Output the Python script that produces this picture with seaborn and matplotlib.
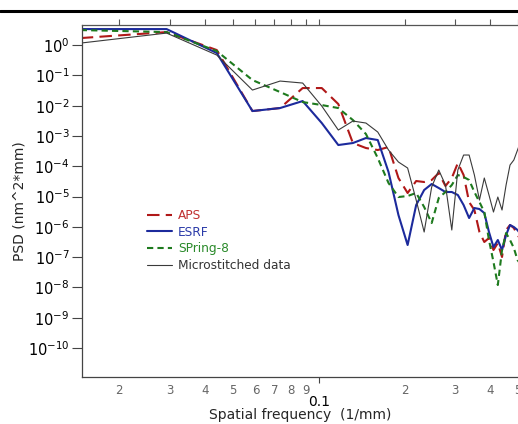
import numpy as np
import pandas as pd
import matplotlib
matplotlib.use("Agg")
import matplotlib.pyplot as plt
import matplotlib.ticker as mticker
from matplotlib.lines import Line2D
import seaborn as sns

# Spatial frequency grid (1/mm)
freq = [0.01465, 0.0293, 0.04395, 0.0586, 0.07325, 0.0879, 0.10255, 0.1172,
        0.13185, 0.1465, 0.16115, 0.1758, 0.19045, 0.2051, 0.21975, 0.2344,
        0.24905, 0.2637, 0.27835, 0.293, 0.30765, 0.3223, 0.33695, 0.3516,
        0.36625, 0.3809, 0.39555, 0.4102, 0.42485, 0.4395, 0.45415, 0.4688,
        0.48345, 0.4981, 0.51275]

# log10 of PSD (nm^2*mm)
log_aps = [0.231, 0.429, -0.165, -2.178, -2.079, -1.419, -1.419, -1.947,
           -3.234, -3.399, -3.465, -3.366, -4.389, -4.884, -4.488, -4.521,
           -4.455, -4.224, -4.653, -4.389, -3.894, -4.290, -5.182, -5.446,
           -6.172, -6.502, -6.370, -6.766, -6.535, -6.997, -6.106, -5.941,
           -6.040, -6.271, -6.436]
log_esrf = [0.528, 0.528, -0.264, -2.178, -2.079, -1.848, -2.574, -3.300,
            -3.234, -3.069, -3.135, -4.191, -5.611, -6.601, -5.281, -4.785,
            -4.587, -4.719, -4.851, -4.851, -4.950, -5.281, -5.710, -5.380,
            -5.413, -5.545, -6.172, -6.667, -6.436, -6.766, -6.271, -5.941,
            -6.007, -6.106, -6.271]
log_spring8 = [0.495, 0.429, -0.198, -1.155, -1.551, -1.881, -1.980, -2.079,
               -2.475, -2.937, -3.729, -4.554, -5.017, -4.983, -4.884, -5.347,
               -5.875, -5.050, -4.851, -4.620, -4.290, -4.356, -4.455, -4.851,
               -5.182, -5.512, -6.436, -7.162, -7.921, -6.766, -6.205, -6.436,
               -6.700, -7.096, -7.261]
log_micro = [0.066, 0.396, -0.330, -1.485, -1.188, -1.254, -2.013, -2.805,
             -2.508, -2.574, -2.871, -3.465, -3.861, -4.059, -5.116, -6.172,
             -4.686, -4.125, -4.620, -6.106, -4.125, -3.630, -3.630, -4.290,
             -5.116, -4.389, -4.950, -5.512, -5.017, -5.446, -4.620, -3.960,
             -3.795, -3.465, -3.135]

series_names = ["APS", "ESRF", "SPring-8", "Microstitched data"]
series_logs = [log_aps, log_esrf, log_spring8, log_micro]
colors = ["#b01818", "#1c2a9c", "#1e7a1e", "#3a3a3a"]
styles = [(0, (6, 3)), "-", (0, (3, 2)), "-"]
widths = [1.5, 1.5, 1.5, 0.8]
text_colors = ["#c03030", "#2a3aa8", "#2a8a2a", "#333333"]

sns.set_style("white")
plt.rcParams["font.family"] = ["DejaVu Sans"]

W, H = 518, 424
fig = plt.figure(figsize=(W / 100, H / 100), dpi=100)
ax = fig.add_axes([82 / W, (H - 377) / H, (518 - 82) / W, (377 - 25) / H])

for name, lg, c, ls, lw in zip(series_names, series_logs, colors, styles, widths):
    df = pd.DataFrame({"f": freq, "psd": np.power(10.0, lg)})
    sns.lineplot(data=df, x="f", y="psd", ax=ax, color=c, linestyle=ls,
                 linewidth=lw, label=name, estimator=None, sort=False)

ax.set_xscale("log")
ax.set_yscale("log")
ax.set_xlim(0.0148, 0.5)
ax.set_ylim(1.1e-11, 4.6)

# y ticks
ax.yaxis.set_major_locator(mticker.LogLocator(base=10, numticks=30))
ax.yaxis.set_minor_locator(mticker.NullLocator())
ax.yaxis.set_major_formatter(mticker.LogFormatterMathtext())
ax.tick_params(axis="y", which="major", left=True, direction="out", length=7,
               width=0.8, color="#444444", labelsize=10.5, labelcolor="black", pad=2)

# x ticks
ax.xaxis.set_major_locator(mticker.LogLocator(base=10, numticks=10))
ax.xaxis.set_minor_locator(mticker.LogLocator(base=10, subs=np.arange(2, 10), numticks=20))
ax.xaxis.set_major_formatter(mticker.FuncFormatter(lambda v, p: "%g" % v))


def minor_fmt(v, p):
    d = v / 10 ** np.floor(np.log10(v) + 1e-9)
    return "%d" % int(round(d))


ax.xaxis.set_minor_formatter(mticker.FuncFormatter(minor_fmt))
ax.tick_params(axis="x", which="major", bottom=True, direction="out", length=4,
               width=0.8, color="#444444", labelsize=10, labelcolor="black", pad=9)
ax.tick_params(axis="x", which="minor", bottom=True, direction="out", length=0,
               labelsize=8.5, labelcolor="#666666", pad=5)

# top axis with outward ticks, no labels
ax2 = ax.twiny()
ax2.set_xscale("log")
ax2.set_xlim(ax.get_xlim())
ax2.xaxis.set_major_locator(mticker.LogLocator(base=10, numticks=10))
ax2.xaxis.set_minor_locator(mticker.LogLocator(base=10, subs=np.arange(2, 10), numticks=20))
ax2.xaxis.set_major_formatter(mticker.NullFormatter())
ax2.xaxis.set_minor_formatter(mticker.NullFormatter())
ax2.tick_params(axis="x", which="both", top=True, direction="out", length=4,
                width=0.8, color="#555555")
for s in ["left", "right", "bottom"]:
    ax2.spines[s].set_visible(False)
ax2.spines["top"].set_color("#555555")
ax2.spines["top"].set_linewidth(0.9)

for s in ["left", "bottom"]:
    ax.spines[s].set_color("#444444")
    ax.spines[s].set_linewidth(0.9)
ax.spines["right"].set_visible(False)
ax.spines["top"].set_visible(False)

ax.set_xlabel("Spatial frequency  (1/mm)", fontsize=10)
ax.set_ylabel("PSD (nm^2*mm)", fontsize=10)
ax.xaxis.set_label_coords(0.5, -0.088)
ax.yaxis.set_label_coords(-0.127, 0.5)

leg = ax.legend(loc="upper left", bbox_to_anchor=(147 / W, 1 - 209 / H),
                bbox_transform=fig.transFigure, frameon=False, fontsize=8.7,
                handlelength=2.1, handletextpad=0.45, labelspacing=0.3,
                borderpad=0, borderaxespad=0)
for t, c in zip(leg.get_texts(), text_colors):
    t.set_color(c)

# thick rule at the top of the figure
fig.add_artist(Line2D([0, 1], [1 - 11 / H, 1 - 11 / H], transform=fig.transFigure,
                      color="black", linewidth=2.2))

fig.savefig("out.png", dpi=100)
